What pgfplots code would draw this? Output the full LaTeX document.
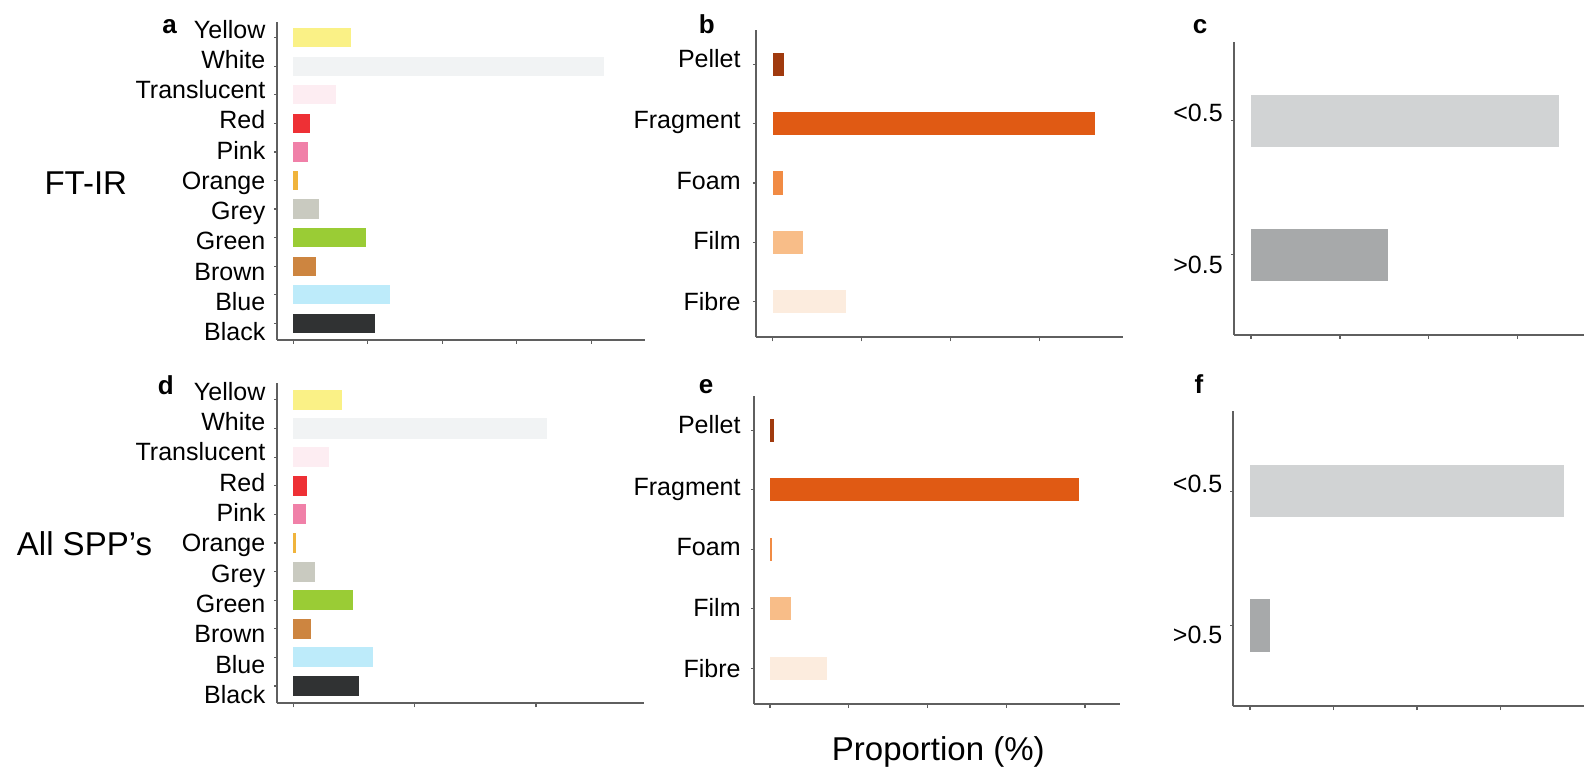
\documentclass[border=0pt]{standalone}
\usepackage{pgfplots}
\pgfplotsset{compat=1.18}
\usepackage{fontspec}
\setmainfont{Liberation Sans}

\definecolor{axgray}{RGB}{95,95,95}
\definecolor{cYellow}{RGB}{250,241,134}
\definecolor{cWhite}{RGB}{241,243,244}
\definecolor{cTrans}{RGB}{253,237,242}
\definecolor{cRed}{RGB}{238,48,53}
\definecolor{cPink}{RGB}{240,128,168}
\definecolor{cOrange}{RGB}{240,180,60}
\definecolor{cGrey}{RGB}{201,202,192}
\definecolor{cGreen}{RGB}{154,204,53}
\definecolor{cBrown}{RGB}{205,133,64}
\definecolor{cBlue}{RGB}{189,235,250}
\definecolor{cBlack}{RGB}{48,50,51}
\definecolor{cPellet}{RGB}{160,58,14}
\definecolor{cFragment}{RGB}{224,90,20}
\definecolor{cFoam}{RGB}{241,139,68}
\definecolor{cFilm}{RGB}{248,189,136}
\definecolor{cFibre}{RGB}{252,236,222}
\definecolor{cSmall}{RGB}{209,211,212}
\definecolor{cLarge}{RGB}{167,169,170}

\pgfplotsset{
  panel/.style={
    scale only axis, anchor=south west,
    axis lines*=left,
    axis line style={draw=axgray, line width=0.9pt},
    tick align=outside,
    major tick length=0pt, minor tick length=1.6pt,
    tick style={draw=axgray, line width=0.6pt},
    xtick=\empty,
    extra x tick labels={},
    extra x tick style={major tick length=2pt, tick style={draw=axgray, line width=0.6pt}},
    yticklabel style={anchor=base east, inner sep=0pt, yshift=-4.45pt,
      font=\fontsize{12.5}{15}\selectfont, text=black},
  },
  hb/.style={xbar, bar shift=0pt, draw=none, fill=#1},
}

\begin{document}
\begin{tikzpicture}[x=1pt,y=1pt]
\useasboundingbox (0,0) rectangle (792,-384.5);

% ---------- a ----------
\begin{axis}[panel, at={(138.65pt,-170pt)},
  width=183.85pt, height=159.15pt,
  xmin=-2.15, xmax=47.2, ymin=0.415, ymax=11.56,
  extra x ticks={0,10,20,30,40},
  ytick={0.705,1.764,2.823,3.882,4.941,6,7.059,8.118,9.177,10.236,11.295},
  yticklabels={Black,Blue,Brown,Green,Grey,Orange,Pink,Red,Translucent,White,Yellow},
  minor ytick={1,2,3,4,5,6,7,8,9,10,11},
  yticklabel style={xshift=-5.8pt},
  bar width=0.676]
\addplot[hb=cBlack]  coordinates {(10.9,1)};
\addplot[hb=cBlue]   coordinates {(13.0,2)};
\addplot[hb=cBrown]  coordinates {(3.0,3)};
\addplot[hb=cGreen]  coordinates {(9.7,4)};
\addplot[hb=cGrey]   coordinates {(3.5,5)};
\addplot[hb=cOrange] coordinates {(0.6,6)};
\addplot[hb=cPink]   coordinates {(2.0,7)};
\addplot[hb=cRed]    coordinates {(2.3,8)};
\addplot[hb=cTrans]  coordinates {(5.7,9)};
\addplot[hb=cWhite]  coordinates {(41.7,10)};
\addplot[hb=cYellow] coordinates {(7.8,11)};
\end{axis}

% ---------- d ----------
\begin{axis}[panel, at={(138.65pt,-351.65pt)},
  width=183.35pt, height=160pt,
  xmin=-2.64, xmax=57.8, ymin=0.395, ymax=11.58,
  extra x ticks={0,20,40},
  ytick={0.705,1.764,2.823,3.882,4.941,6,7.059,8.118,9.177,10.236,11.295},
  yticklabels={Black,Blue,Brown,Green,Grey,Orange,Pink,Red,Translucent,White,Yellow},
  minor ytick={1,2,3,4,5,6,7,8,9,10,11},
  yticklabel style={xshift=-5.8pt},
  bar width=0.7]
\addplot[hb=cBlack]  coordinates {(10.9,1)};
\addplot[hb=cBlue]   coordinates {(13.1,2)};
\addplot[hb=cBrown]  coordinates {(2.9,3)};
\addplot[hb=cGreen]  coordinates {(9.8,4)};
\addplot[hb=cGrey]   coordinates {(3.6,5)};
\addplot[hb=cOrange] coordinates {(0.5,6)};
\addplot[hb=cPink]   coordinates {(2.1,7)};
\addplot[hb=cRed]    coordinates {(2.2,8)};
\addplot[hb=cTrans]  coordinates {(5.8,9)};
\addplot[hb=cWhite]  coordinates {(41.8,10)};
\addplot[hb=cYellow] coordinates {(8.0,11)};
\end{axis}

% ---------- b ----------
\begin{axis}[panel, at={(378pt,-168.65pt)},
  width=183.35pt, height=153.65pt,
  xmin=-3.76, xmax=78.7, ymin=0.4, ymax=5.578,
  extra x ticks={0,20,40,60},
  ytick={1.007,2.028,3.034,4.062,5.1},
  yticklabels={Fibre,Film,Foam,Fragment,Pellet},
  minor ytick={1,2,3,4,5},
  yticklabel style={xshift=-7.5pt},
  bar width=0.39]
\addplot[hb=cFibre]    coordinates {(16.4,1)};
\addplot[hb=cFilm]     coordinates {(6.7,2)};
\addplot[hb=cFoam]     coordinates {(2.2,3)};
\addplot[hb=cFragment] coordinates {(72.4,4)};
\addplot[hb=cPellet]   coordinates {(2.6,5)};
\end{axis}

% ---------- e ----------
\begin{axis}[panel, at={(377pt,-352pt)},
  width=183pt, height=154pt,
  xmin=-4.06, xmax=88.9, ymin=0.4, ymax=5.576,
  extra x ticks={0,20,40,60,80},
  ytick={1,2.02,3.04,4.06,5.09},
  yticklabels={Fibre,Film,Foam,Fragment,Pellet},
  minor ytick={1,2,3,4,5},
  yticklabel style={xshift=-6.5pt},
  bar width=0.38]
\addplot[hb=cFibre]    coordinates {(14.4,1)};
\addplot[hb=cFilm]     coordinates {(5.3,2)};
\addplot[hb=cFoam]     coordinates {(0.6,3)};
\addplot[hb=cFragment] coordinates {(78.4,4)};
\addplot[hb=cPellet]   coordinates {(1.0,5)};
\end{axis}

% ---------- c ----------
\begin{axis}[panel, at={(617.15pt,-167.5pt)},
  width=174.85pt, height=146.65pt,
  xmin=-3.76, xmax=74.9, ymin=0.4, ymax=2.59,
  extra x ticks={0,20,40,60},
  ytick={0.925,2.057},
  yticklabels={>0.5,<0.5},
  minor ytick={1,2},
  yticklabel style={xshift=-5.6pt},
  bar width=0.39]
\addplot[hb=cLarge] coordinates {(30.9,1)};
\addplot[hb=cSmall] coordinates {(69.3,2)};
\end{axis}

% ---------- f ----------
\begin{axis}[panel, at={(616.65pt,-353pt)},
  width=175.35pt, height=147.65pt,
  xmin=-5, xmax=100, ymin=0.4, ymax=2.6,
  extra x ticks={0,25,50,75},
  ytick={0.93,2.06},
  yticklabels={>0.5,<0.5},
  minor ytick={1,2},
  yticklabel style={xshift=-5.3pt},
  bar width=0.39]
\addplot[hb=cLarge] coordinates {(6.1,1)};
\addplot[hb=cSmall] coordinates {(93.9,2)};
\end{axis}

% panel letters
\begin{scope}[every node/.style={anchor=base, inner sep=0pt, font=\bfseries\fontsize{13}{15}\selectfont}]
\node at (84.85,-16.65) {a};
\node at (353.35,-16.65) {b};
\node at (600,-16.65) {c};
\node at (82.85,-197.5) {d};
\node at (353,-196.65) {e};
\node at (599.5,-196.65) {f};
\end{scope}

% row titles and axis title
\node[anchor=base, inner sep=0pt, font=\fontsize{16.5}{19}\selectfont] at (42.9,-97.5) {FT-IR};
\node[anchor=base, inner sep=0pt, font=\fontsize{16.5}{19}\selectfont] at (42.25,-277.5) {All SPP’s};
\node[anchor=base, inner sep=0pt, font=\fontsize{16.5}{19}\selectfont] at (469.15,-380) {Proportion (\%)};
\end{tikzpicture}
\end{document}
